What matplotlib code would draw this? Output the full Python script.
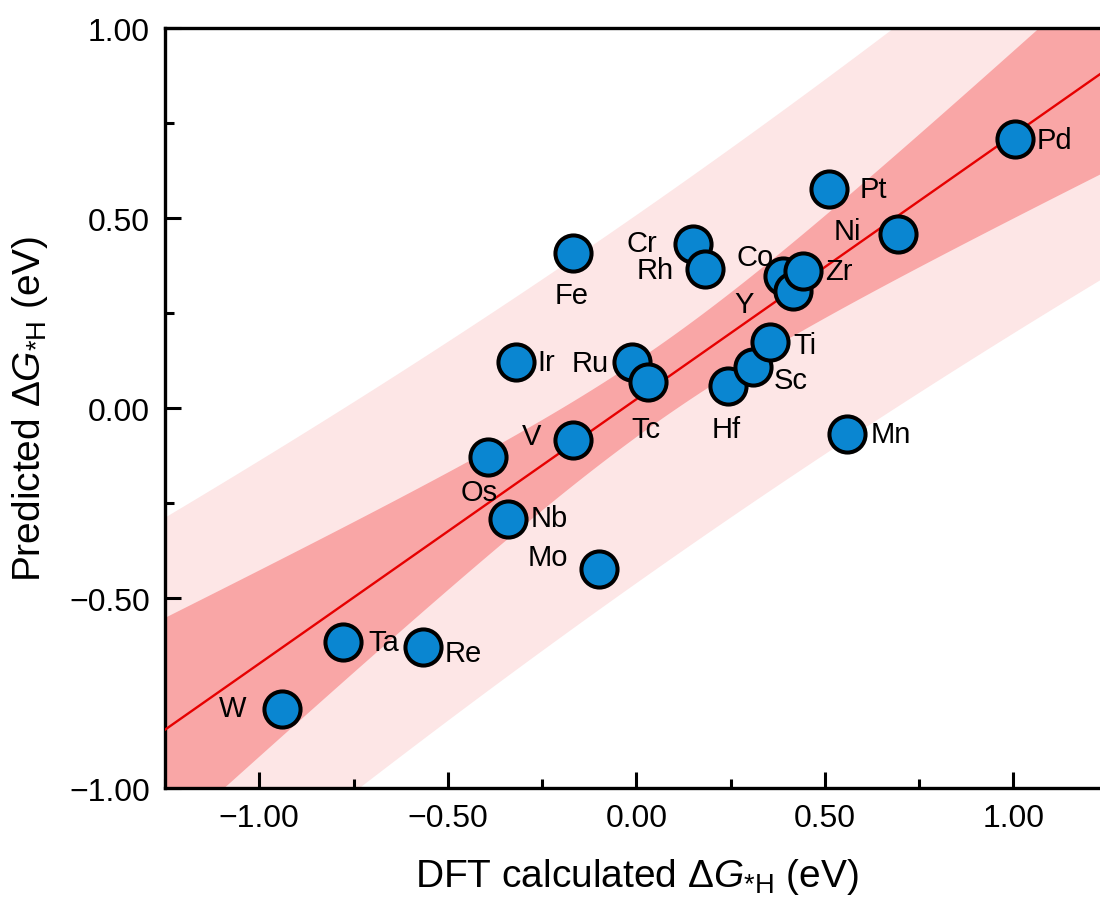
import numpy as np
import matplotlib
matplotlib.use("Agg")
import matplotlib.pyplot as plt
from matplotlib.ticker import MultipleLocator, FuncFormatter

plt.rcParams["font.family"] = ["Liberation Sans", "DejaVu Sans"]
plt.rcParams["mathtext.fontset"] = "custom"
plt.rcParams["mathtext.rm"] = "Liberation Sans"
plt.rcParams["mathtext.it"] = "Liberation Sans:italic"

# --- data: DFT vs predicted ΔG*H (eV), drawing order bottom -> top ---
elements = ["W", "Ta", "Re", "Os", "Nb", "Mo", "V", "Ir", "Fe", "Hf", "Sc", "Ti",
            "Ru", "Tc", "Cr", "Rh", "Co", "Y", "Zr", "Mn", "Ni", "Pt", "Pd"]
dft = [-0.939, -0.778, -0.566, -0.394, -0.341, -0.098, -0.167, -0.320, -0.167,
       0.243, 0.310, 0.354, -0.011, 0.032, 0.151, 0.183, 0.389, 0.415, 0.442,
       0.558, 0.693, 0.511, 1.003]
pred = [-0.792, -0.616, -0.629, -0.129, -0.292, -0.424, -0.084, 0.121, 0.408,
        0.058, 0.108, 0.174, 0.121, 0.068, 0.432, 0.366, 0.347, 0.308, 0.361,
        -0.068, 0.458, 0.576, 0.708]

# label offsets (points) from each marker centre
label_offset = {
    "W": (-36, 1), "Ta": (29, 0), "Re": (29, -4), "Os": (-6, -25), "Nb": (30, 1),
    "Mo": (-37, 9), "V": (-30, 3), "Ir": (22, 0), "Fe": (-1, -30), "Hf": (-1, -31),
    "Sc": (27, -9), "Ti": (25, -2), "Ru": (-30, -1), "Tc": (-2, -34), "Cr": (-37, 1),
    "Rh": (-36, -1), "Co": (-20, 14), "Y": (-35, -9), "Zr": (26, 0), "Mn": (32, 0),
    "Ni": (-36, 2), "Pt": (32, 0), "Pd": (29, -1),
}

x = np.array(dft)
y = np.array(pred)

# linear fit with 95% confidence / prediction bands
n = len(x)
slope, intercept = np.polyfit(x, y, 1)
resid = y - (slope * x + intercept)
s = np.sqrt(np.sum(resid ** 2) / (n - 2))
t95 = 2.080  # t(0.975, df=21)
sxx = np.sum((x - x.mean()) ** 2)
xx = np.linspace(-1.3, 1.3, 300)
yy = slope * xx + intercept
conf = t95 * s * np.sqrt(1 / n + (xx - x.mean()) ** 2 / sxx)
predb = t95 * s * np.sqrt(1 + 1 / n + (xx - x.mean()) ** 2 / sxx)

fig = plt.figure(figsize=(11, 9.03), dpi=100)
ax = fig.add_axes([0.15, 0.1262, 0.857, 0.8416])

ax.fill_between(xx, yy - predb, yy + predb, color="#FDE6E6", lw=0, zorder=1)
ax.fill_between(xx, yy - conf, yy + conf, color="#F9A6A6", lw=0, zorder=2)
ax.plot(xx, yy, color="#E60000", lw=1.7, zorder=3)

ax.plot(x, y, "o", ms=26, mfc="#0A86D1", mec="black", mew=2.9, zorder=4)

for el, xi, yi in zip(elements, dft, pred):
    dx, dy = label_offset[el]
    ax.annotate(el, (xi, yi), xytext=(dx, dy), textcoords="offset points",
                ha="center", va="center", fontsize=21, zorder=5)

fmt = FuncFormatter(lambda v, _: f"{v:.2f}".replace("-", "\u2212"))
ax.set_xlim(-1.25, 1.25)
ax.set_ylim(-1.0, 1.0)
ax.xaxis.set_major_locator(MultipleLocator(0.5))
ax.xaxis.set_minor_locator(MultipleLocator(0.25))
ax.yaxis.set_major_locator(MultipleLocator(0.5))
ax.yaxis.set_minor_locator(MultipleLocator(0.25))
ax.xaxis.set_major_formatter(fmt)
ax.yaxis.set_major_formatter(fmt)
ax.tick_params(which="both", direction="in", width=2.2, top=False, right=False,
               labelsize=23)
ax.tick_params(which="major", length=11.5, pad=11)
ax.tick_params(which="minor", length=6.5)
for sp in ax.spines.values():
    sp.set_linewidth(2.4)

ax.set_xlabel(r"DFT calculated Δ$G_{*\mathrm{H}}$ (eV)", fontsize=28, labelpad=16)
ax.set_ylabel(r"Predicted Δ$G_{*\mathrm{H}}$ (eV)", fontsize=28, labelpad=14)

fig.savefig("out.png", dpi=100)
